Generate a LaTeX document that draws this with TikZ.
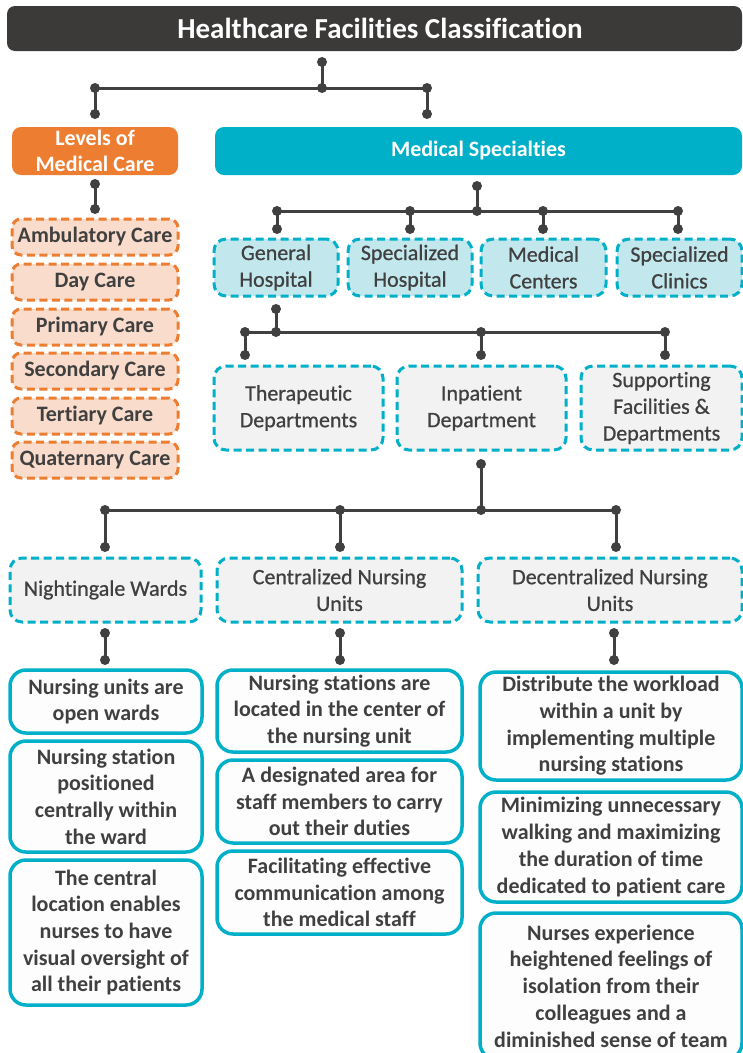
\documentclass[tikz,border=0pt]{standalone}
\usepackage{fontspec}
\setmainfont[Ligatures={NoCommon}]{Carlito}
\newfontfamily\medfont[Ligatures={NoCommon}, FakeBold=0.7]{Carlito}
\definecolor{ink}{HTML}{404040}
\definecolor{titlebg}{HTML}{3B3A39}
\definecolor{orangeA}{HTML}{ED7D31}
\definecolor{peach}{HTML}{F9DCCB}
\definecolor{tealA}{HTML}{00B0C8}
\definecolor{cyanfill}{HTML}{C2E8EE}
\definecolor{grayfill}{HTML}{F2F2F2}
\definecolor{paper}{HTML}{FDFDFD}
\tikzset{
  base/.style={align=center, inner sep=0pt, rounded corners=12pt, text=ink,
    font=\medfont\fontsize{22}{26.7}\selectfont},
  boldbase/.style={base, font=\fontsize{22}{26.7}\selectfont\bfseries},
  titlebar/.style={boldbase, fill=titlebg, text=white, rounded corners=8pt,
    font=\fontsize{29}{34}\selectfont\bfseries},
  headorange/.style={boldbase, fill=orangeA, text=white, rounded corners=9pt},
  headteal/.style={boldbase, fill=tealA, text=white, rounded corners=9pt},
  dashbox/.style={line width=3pt, dash pattern=on 8pt off 4.5pt},
  levelbox/.style={boldbase, dashbox, draw=orangeA, fill=peach, rounded corners=9pt},
  typebox/.style={base, dashbox, draw=tealA, fill=cyanfill},
  deptbox/.style={base, dashbox, draw=tealA, fill=grayfill},
  notebox/.style={boldbase, draw=tealA, line width=3.5pt, fill=paper, rounded corners=16pt},
  conn/.style={draw=ink, line width=3pt},
  dot/.style={fill=ink},
}
\newcommand\stem[2]{\draw[conn] (#1) -- (#2); \fill[dot] (#1) circle (5pt) (#2) circle (5pt);}
\begin{document}
\begin{tikzpicture}[x=1pt, y=-1pt]
\useasboundingbox (0,0) rectangle (743,1053);
\clip (0,0) rectangle (743,1053);

% ---- title and first split ----
\node[titlebar, minimum width=735, minimum height=45] (title) at (374.5,28.5)
  {\hspace*{11pt}Healthcare Facilities Classification};
\node[headorange, minimum width=166, minimum height=48] (levels) at (95,151)
  {Levels of\\Medical Care};
\node[headteal, minimum width=527, minimum height=48] (spec) at (478.5,151)
  {Medical Specialties};

% ---- levels of care ----
\node[levelbox, minimum width=166, minimum height=36] (amb) at (95,237) {Ambulatory Care};
\node[levelbox, minimum width=166, minimum height=36] (day) at (95,282) {Day Care};
\node[levelbox, minimum width=166, minimum height=36] (pri) at (95,327) {Primary Care};
\node[levelbox, minimum width=166, minimum height=36] (sec) at (95,371) {Secondary Care};
\node[levelbox, minimum width=166, minimum height=36] (ter) at (95,416) {Tertiary Care};
\node[levelbox, minimum width=166, minimum height=36] (qua) at (95,460) {Quaternary Care};

% ---- facility types ----
\node[typebox, minimum width=124, minimum height=57] (gen) at (276,267.5) {General\\Hospital};
\node[typebox, minimum width=124, minimum height=57] (sph) at (410,267.5) {Specialized\\Hospital};
\node[typebox, minimum width=125, minimum height=57] (mc) at (543.5,267.5) {Medical\\Centers};
\node[typebox, minimum width=125, minimum height=57] (spc) at (679.5,267.5) {Specialized\\Clinics};

% ---- departments ----
\node[deptbox, minimum width=169, minimum height=84] (ther) at (298.5,408) {Therapeutic\\Departments};
\node[deptbox, minimum width=169, minimum height=84] (inp) at (481.5,408) {Inpatient\\Department};
\node[deptbox, minimum width=161, minimum height=84] (sup) at (661.5,408) {Supporting\\Facilities \&\\Departments};

% ---- nursing unit types ----
\node[deptbox, minimum width=191, minimum height=64] (night) at (105.5,590) {Nightingale Wards};
\node[deptbox, minimum width=245, minimum height=64] (cent) at (339.5,590) {Centralized Nursing\\Units};
\node[deptbox, minimum width=264, minimum height=64] (dece) at (610,590) {Decentralized Nursing\\Units};

% ---- notes: Nightingale wards ----
\node[notebox, minimum width=192, minimum height=63] (n1) at (106,701.5)
  {Nursing units are\\open wards};
\node[notebox, minimum width=192, minimum height=111] (n2) at (106,796.5)
  {Nursing station\\positioned\\centrally within\\the ward};
\node[notebox, minimum width=192, minimum height=145] (n3) at (106,932.5)
  {The central\\location enables\\nurses to have\\visual oversight of\\all their patients};

% ---- notes: centralized units ----
\node[notebox, minimum width=245, minimum height=82] (c1) at (339.5,711)
  {Nursing stations are\\located in the center of\\the nursing unit};
\node[notebox, minimum width=245, minimum height=83] (c2) at (339.5,801.5)
  {A designated area for\\staff members to carry\\out their duties};
\node[notebox, minimum width=245, minimum height=83] (c3) at (339.5,892.5)
  {Facilitating effective\\communication among\\the medical staff};

% ---- notes: decentralized units ----
\node[notebox, minimum width=262, minimum height=108] (d1) at (611,726)
  {Distribute the workload\\within a unit by\\implementing multiple\\nursing stations};
\node[notebox, minimum width=262, minimum height=110] (d2) at (611,847)
  {Minimizing unnecessary\\walking and maximizing\\the duration of time\\dedicated to patient care};
\node[notebox, minimum width=262, minimum height=146] (d3) at (611,986)
  {Nurses experience\\heightened feelings of\\isolation from their\\colleagues and a\\diminished sense of team};

% ---- connector points ----
\coordinate (aTop) at (322,62);   \coordinate (aJ) at (322,88);
\coordinate (aL) at (95,88);      \coordinate (aR) at (427,88);
\coordinate (aLd) at (95,114);    \coordinate (aRd) at (427,114);

\coordinate (lvTop) at (95,184);  \coordinate (lvBot) at (95,209);

\coordinate (bTop) at (477,186);  \coordinate (bJ) at (477,211);
\coordinate (b1) at (277,211);    \coordinate (b2) at (410,211);
\coordinate (b3) at (543,211);    \coordinate (b4) at (678,211);
\coordinate (b1d) at (277,229);   \coordinate (b2d) at (410,229);
\coordinate (b3d) at (543,229);   \coordinate (b4d) at (678,229);

\coordinate (cTop) at (276,309);  \coordinate (cJ) at (276,332);
\coordinate (c1b) at (245,332);   \coordinate (c2b) at (481,332);
\coordinate (c3b) at (665,332);
\coordinate (c1d) at (245,355);   \coordinate (c2d) at (481,355);
\coordinate (c3d) at (665,355);

\coordinate (dTop) at (481,464);  \coordinate (dJ) at (481,510);
\coordinate (d1b) at (105,510);   \coordinate (d2b) at (340,510);
\coordinate (d3b) at (616,510);
\coordinate (d1d) at (105,547);   \coordinate (d2d) at (340,547);
\coordinate (d3d) at (616,547);

\coordinate (e1t) at (105,633);   \coordinate (e1b) at (105,660);
\coordinate (e2t) at (340,633);   \coordinate (e2b) at (340,660);
\coordinate (e3t) at (614,633);   \coordinate (e3b) at (614,660);

% ---- connectors ----
\draw[conn] (aL) -- (aR);
\stem{aTop}{aJ} \stem{aL}{aLd} \stem{aR}{aRd}

\stem{lvTop}{lvBot}

\draw[conn] (b1) -- (b4);
\stem{bTop}{bJ} \stem{b1}{b1d} \stem{b2}{b2d} \stem{b3}{b3d} \stem{b4}{b4d}

\draw[conn] (c1b) -- (c3b);
\stem{cTop}{cJ} \stem{c1b}{c1d} \stem{c2b}{c2d} \stem{c3b}{c3d}

\draw[conn] (d1b) -- (d3b);
\stem{dTop}{dJ} \stem{d1b}{d1d} \stem{d2b}{d2d} \stem{d3b}{d3d}

\stem{e1t}{e1b} \stem{e2t}{e2b} \stem{e3t}{e3b}
\end{tikzpicture}
\end{document}
